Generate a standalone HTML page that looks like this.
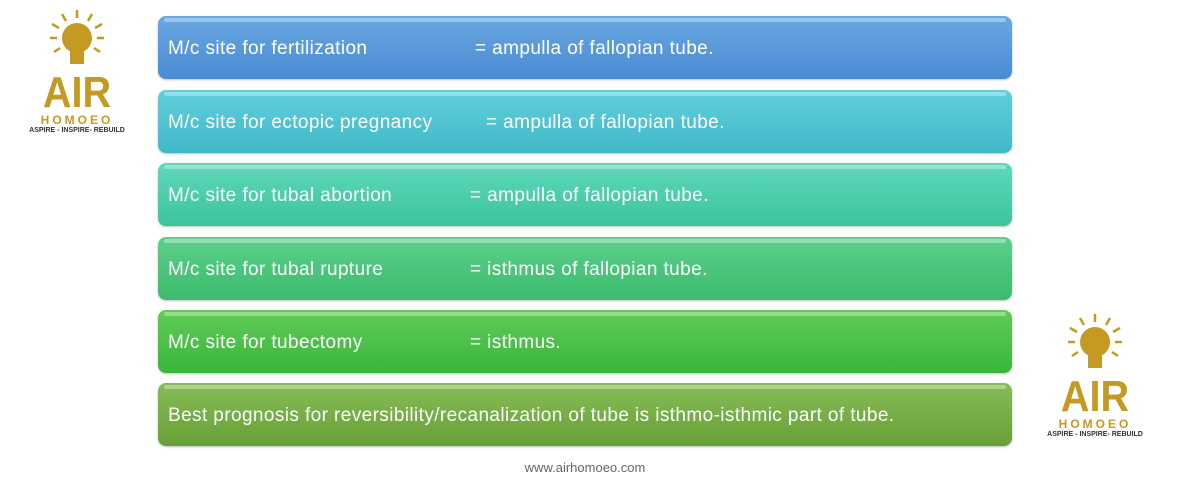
<!DOCTYPE html>
<html><head><style>
body{margin:0;width:1186px;height:502px;background:#fff;position:relative;font-family:"Liberation Sans",sans-serif;overflow:hidden}
.bar{position:absolute;left:158px;width:854px;height:63px;border-radius:8px;color:#fff;font-size:19px;letter-spacing:0.4px;line-height:65px;box-shadow:0 1px 2px rgba(0,0,0,.25)}
.bar::before{content:"";position:absolute;left:6px;right:6px;top:2px;height:4px;border-radius:3px;background:rgba(255,255,255,.35)}
.bar span{position:absolute;top:0}
.l{left:10px}
.logo{position:absolute;text-align:center;color:#c49a22}
.logo .air{font-size:44px;font-weight:bold;line-height:36px;transform:scaleX(0.9)}
.logo .h{font-size:12px;font-weight:bold;letter-spacing:3px;margin-top:2px}
.logo .t{font-size:7px;color:#333;font-weight:bold;margin-top:0}
</style></head><body>
<div class="logo" style="left:22px;top:8px;width:110px">
<svg width="70" height="62" viewBox="0 0 70 62"><g stroke="#c49a22" stroke-width="2.5"><line x1="35" y1="2" x2="35" y2="10"/><line x1="20" y1="6" x2="24" y2="13"/><line x1="50" y1="6" x2="46" y2="13"/><line x1="10" y1="16" x2="17" y2="20"/><line x1="60" y1="16" x2="53" y2="20"/><line x1="8" y1="30" x2="15" y2="30"/><line x1="62" y1="30" x2="55" y2="30"/><line x1="12" y1="44" x2="18" y2="40"/><line x1="58" y1="44" x2="52" y2="40"/></g><circle cx="35" cy="30" r="15" fill="#c49a22"/><rect x="28" y="42" width="14" height="14" fill="#c49a22"/></svg>
<div class="air">AIR</div><div class="h">HOMOEO</div><div class="t">ASPIRE - INSPIRE- REBUILD</div></div>
<div class="logo" style="left:1040px;top:312px;width:110px">
<svg width="70" height="62" viewBox="0 0 70 62"><g stroke="#c49a22" stroke-width="2.5"><line x1="35" y1="2" x2="35" y2="10"/><line x1="20" y1="6" x2="24" y2="13"/><line x1="50" y1="6" x2="46" y2="13"/><line x1="10" y1="16" x2="17" y2="20"/><line x1="60" y1="16" x2="53" y2="20"/><line x1="8" y1="30" x2="15" y2="30"/><line x1="62" y1="30" x2="55" y2="30"/><line x1="12" y1="44" x2="18" y2="40"/><line x1="58" y1="44" x2="52" y2="40"/></g><circle cx="35" cy="30" r="15" fill="#c49a22"/><rect x="28" y="42" width="14" height="14" fill="#c49a22"/></svg>
<div class="air">AIR</div><div class="h">HOMOEO</div><div class="t">ASPIRE - INSPIRE- REBUILD</div></div>

<div class="bar" style="top:16px;background:linear-gradient(#6aa8e2,#4a8bd2)"><span class="l">M/c site for fertilization</span><span style="left:317px">= ampulla of fallopian tube.</span></div>
<div class="bar" style="top:90px;background:linear-gradient(#62cfdc,#40b8c8)"><span class="l">M/c site for ectopic pregnancy</span><span style="left:328px">= ampulla of fallopian tube.</span></div>
<div class="bar" style="top:163px;background:linear-gradient(#5ed8bc,#3cc49c)"><span class="l">M/c site for tubal abortion</span><span style="left:312px">= ampulla of fallopian tube.</span></div>
<div class="bar" style="top:237px;background:linear-gradient(#5cd08c,#3cbb6c)"><span class="l">M/c site for tubal rupture</span><span style="left:312px">= isthmus of fallopian tube.</span></div>
<div class="bar" style="top:310px;background:linear-gradient(#60cc58,#3ab53a)"><span class="l">M/c site for tubectomy</span><span style="left:312px">= isthmus.</span></div>
<div class="bar" style="top:383px;background:linear-gradient(#86bc58,#68a036)"><span class="l">Best prognosis for reversibility/recanalization of tube is isthmo-isthmic part of tube.</span></div>
<div style="position:absolute;left:0;width:1186px;top:460px;text-align:center;font-size:13px;color:#666"><span style="position:relative;left:-8px">www.airhomoeo.com</span></div>
</body></html>
